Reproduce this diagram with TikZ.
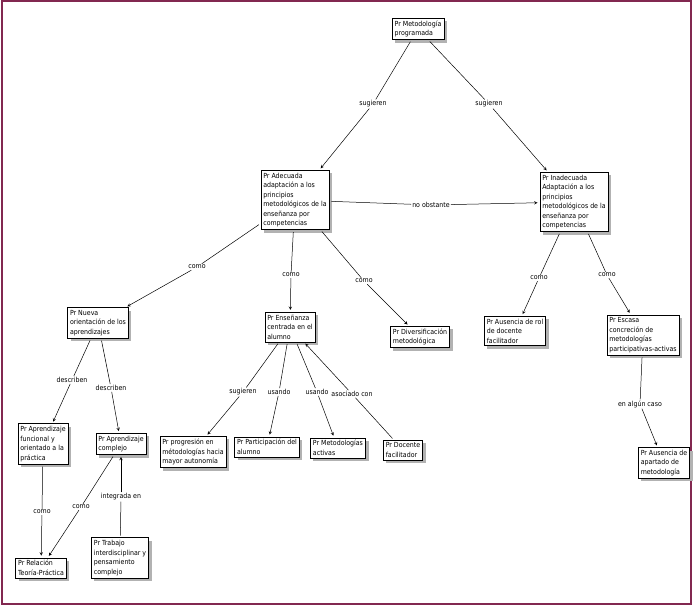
\documentclass[tikz,border=0pt]{standalone}
\usepackage{fontspec}
\setmainfont{DejaVu Sans Condensed}
\usetikzlibrary{shadows}
\begin{document}
\begin{tikzpicture}[x=1bp,y=-1bp,font=\fontsize{7}{9.6}\selectfont,
 box/.style={draw,fill=white,align=left,inner sep=2.5pt,line width=0.6pt,
   drop shadow={shadow xshift=3pt,shadow yshift=-3pt,fill=gray!60,opacity=1}},
 lab/.style={inner sep=1pt,fill=white},
 ar/.style={->,>=stealth,line width=0.5pt,shorten >=2pt},
 ln/.style={line width=0.5pt,shorten <=2pt}]
\useasboundingbox (0,0) rectangle (695,608);
\draw[draw={rgb,255:red,130;green,40;blue,80},line width=1.5pt] (2,1) rectangle (691,604);
\node[box] (met) at (418,29) {Pr Metodología\\programada};
\node[box] (ade) at (295,200) {Pr Adecuada\\adaptación a los\\principios\\metodológicos de la\\enseñanza por\\competencias};
\node[box] (ina) at (574,202) {Pr Inadecuada\\Adaptación a los\\principios\\metodológicos de la\\enseñanza por\\competencias};
\node[box] (nue) at (98,323) {Pr Nueva\\orientación de los\\aprendizajes};
\node[box] (ens) at (290,327) {Pr Enseñanza\\centrada en el\\alumno};
\node[box] (div) at (420,337) {Pr Diversificación\\metodológica};
\node[box] (rol) at (515,331) {Pr Ausencia de rol\\de docente\\facilitador};
\node[box] (esc) at (643,335) {Pr Escasa\\concreción de\\metodologías\\participativas-activas};
\node[box] (fun) at (43,444) {Pr Aprendizaje\\funcional y\\orientado a la\\práctica};
\node[box] (com) at (121,444) {Pr Aprendizaje\\complejo};
\node[box] (pro) at (193,452) {Pr progresión en\\métodologías hacia\\mayor autonomía};
\node[box] (par) at (267,447) {Pr Participación del\\alumno};
\node[box] (act) at (338,448) {Pr Metodologías\\activas};
\node[box] (doc) at (403,450) {Pr Docente\\facilitador};
\node[box] (apa) at (664,463) {Pr Ausencia de\\apartado de\\metodología};
\node[box] (rel) at (41,568) {Pr Relación\\Teoría-Práctica};
\node[box] (tra) at (120,558) {Pr Trabajo\\interdisciplinar y\\pensamiento\\complejo};
% labels
\node[lab] (l1) at (373,104) {sugieren};
\node[lab] (l2) at (489,104) {sugieren};
\node[lab] (l3) at (431,205) {no obstante};
\node[lab] (l4) at (197,267) {como};
\node[lab] (l5) at (291,275) {como};
\node[lab] (l6) at (364,281) {como};
\node[lab] (l7) at (539,278) {como};
\node[lab] (l8) at (607,275) {como};
\node[lab] (l9) at (72,380) {describen};
\node[lab] (l10) at (111,388) {describen};
\node[lab] (l11) at (243,392) {sugieren};
\node[lab] (l12) at (279,392) {usando};
\node[lab] (l13) at (317,392) {usando};
\node[lab] (l14) at (352,394) {asociado con};
\node[lab] (l15) at (640,404) {en algún caso};
\node[lab] (l16) at (42,512) {como};
\node[lab] (l17) at (81,507) {como};
\node[lab] (l18) at (121,497) {integrada en};
\foreach \a/\l/\b in {met/l1/ade,met/l2/ina,ade/l3/ina,ade/l4/nue,ade/l5/ens,ade/l6/div,
 ina/l7/rol,ina/l8/esc,esc/l15/apa,nue/l9/fun,nue/l10/com,ens/l11/pro,ens/l12/par,ens/l13/act,
 doc/l14/ens,fun/l16/rel,com/l17/rel,tra/l18/com}
 {\draw[ln] (\a) -- (\l); \draw[ar] (\l) -- (\b);}
\end{tikzpicture}
\end{document}
